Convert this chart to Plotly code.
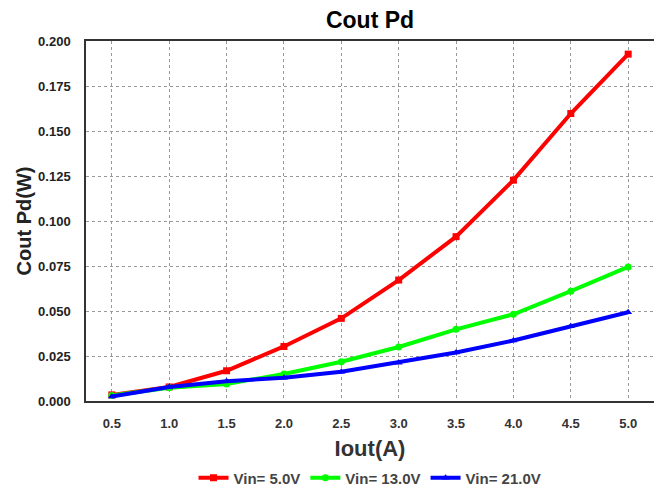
import plotly.graph_objects as go

iout = [0.5, 1.0, 1.5, 2.0, 2.5, 3.0, 3.5, 4.0, 4.5, 5.0]
vin5 = [0.0034, 0.0078, 0.0168, 0.0303, 0.0459, 0.0672, 0.0913, 0.1227, 0.1597, 0.1927]
vin13 = [0.0030, 0.0073, 0.0095, 0.0150, 0.0218, 0.0300, 0.0398, 0.0482, 0.0610, 0.0745]
vin21 = [0.0025, 0.0078, 0.0110, 0.0129, 0.0162, 0.0213, 0.0269, 0.0336, 0.0415, 0.0493]
names = ["Vin= 5.0V", "Vin= 13.0V", "Vin= 21.0V"]
colors = ["#ff0000", "#00ff00", "#0000ff"]
symbols = ["square", "circle", "triangle-up"]
xticks = iout
yticks = [0.0, 0.025, 0.05, 0.075, 0.1, 0.125, 0.15, 0.175, 0.2]

fig = go.Figure()
for ys, n, c, s in zip([vin5, vin13, vin21], names, colors, symbols):
    fig.add_trace(go.Scatter(x=iout, y=ys, name=n, mode="lines+markers",
                             line=dict(color=c, width=4),
                             marker=dict(color=c, symbol=s, size=7)))

fnt = "Liberation Sans, Arial, sans-serif"
# page body has an 8px margin, so the figure is sized/positioned to compensate
fig.update_layout(
    width=654, height=483,
    margin=dict(l=78, r=8, t=33, b=90, autoexpand=False),
    paper_bgcolor="white", plot_bgcolor="white",
    title=dict(text="<b>Cout Pd</b>", x=0.5, xanchor="center", xref="paper",
               y=0.976, yanchor="middle", yref="container",
               font=dict(family=fnt, size=23, color="black")),
    font=dict(family=fnt, color="#333333"),
    showlegend=True,
    legend=dict(orientation="h", x=0.5, xanchor="center", xref="paper",
                y=0.027, yanchor="middle", yref="container",
                font=dict(family=fnt, size=15, color="#444444", weight="bold"),
                itemwidth=30, tracegroupgap=0),
)
fig.update_xaxes(range=[0.275, 5.225], tickvals=xticks, ticktext=[f"{v:.1f}" for v in xticks],
                 showgrid=True, gridcolor="#999999", griddash="dot", gridwidth=1,
                 showline=True, linecolor="#333333", linewidth=1.5, mirror=True,
                 ticks="", zeroline=False, automargin=False, ticklabelstandoff=10,
                 tickfont=dict(family=fnt, size=13, color="#333333", weight="bold"),
                 title=dict(text="<b>Iout(A)</b>", font=dict(family=fnt, size=22, color="#333333"), standoff=16))
fig.update_yaxes(range=[0, 0.2], tickvals=yticks, ticktext=[f"{v:.3f}" for v in yticks],
                 showgrid=True, gridcolor="#999999", griddash="dot", gridwidth=1,
                 showline=True, linecolor="#333333", linewidth=1.5, mirror=True,
                 ticks="", zeroline=False, automargin=False, ticklabelstandoff=11,
                 tickfont=dict(family=fnt, size=13, color="#222222", weight="bold"),
                 title=dict(text="<b>Cout Pd(W)</b>", font=dict(family=fnt, size=20, color="#222222"), standoff=1))

fig.write_html("out.html")
